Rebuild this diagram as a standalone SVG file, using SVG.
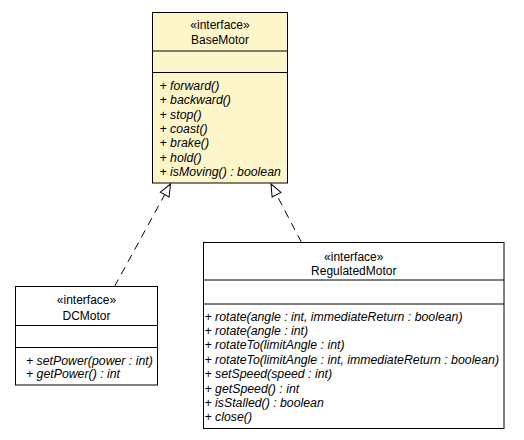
<svg xmlns="http://www.w3.org/2000/svg" width="524" height="440" viewBox="0 0 524 440">
<style>
.box{fill:#fff;stroke:#000;stroke-width:1}
.yel{fill:#fef6cb}
.div{stroke:#000;stroke-width:1}
.t{font-family:"Liberation Sans",Arial,sans-serif;font-size:12px;fill:#000}
.c{text-anchor:middle}
.m{font-style:italic;font-size:12.3px}
.conn{fill:none;stroke:#000;stroke-width:1;stroke-dasharray:8,6}
</style>
<defs>
<marker id="tri" markerUnits="userSpaceOnUse" markerWidth="16" markerHeight="14" refX="13" refY="6" orient="auto">
<path d="M1,1 L13,6 L1,11 z" fill="#fff" stroke="#000" stroke-width="1"/>
</marker>
</defs>
<rect width="524" height="440" fill="#fff"/>
<g id="connectors">
<line class="conn" x1="114.5" y1="286.5" x2="170.5" y2="184" marker-end="url(#tri)"/>
<line class="conn" x1="301.5" y1="242.5" x2="271" y2="184" marker-end="url(#tri)"/>
</g>
<g id="BaseMotor">
<rect class="box yel" x="152.5" y="12.5" width="135" height="170.5" style="stroke:#000"/>
<line class="div" x1="152.5" y1="51" x2="287.5" y2="51"/>
<line class="div" x1="152.5" y1="72.5" x2="287.5" y2="72.5"/>
<text class="t c" x="220" y="28.5">«interface»</text>
<text class="t c" x="220" y="44">BaseMotor</text>
<text class="t m" x="159.5" y="90">+ forward()</text>
<text class="t m" x="159.5" y="104.3">+ backward()</text>
<text class="t m" x="159.5" y="118.6">+ stop()</text>
<text class="t m" x="159.5" y="132.9">+ coast()</text>
<text class="t m" x="159.5" y="147.2">+ brake()</text>
<text class="t m" x="159.5" y="161.5">+ hold()</text>
<text class="t m" x="159.5" y="175.8">+ isMoving() : boolean</text>
</g>
<g id="DCMotor">
<rect class="box" x="15.5" y="286.5" width="142" height="98.5"/>
<line class="div" x1="15.5" y1="325.5" x2="157.5" y2="325.5"/>
<line class="div" x1="15.5" y1="347.5" x2="157.5" y2="347.5"/>
<text class="t c" x="86.5" y="303.5">«interface»</text>
<text class="t c" x="86.5" y="319.5">DCMotor</text>
<text class="t m" x="26" y="364.5">+ setPower(power : int)</text>
<text class="t m" x="26" y="378">+ getPower() : int</text>
</g>
<g id="RegulatedMotor">
<rect class="box" x="203.5" y="242.5" width="300.5" height="186"/>
<line class="div" x1="203.5" y1="280" x2="504" y2="280"/>
<line class="div" x1="203.5" y1="304" x2="504" y2="304"/>
<text class="t c" x="353.75" y="260.5">«interface»</text>
<text class="t c" x="353.75" y="274.5">RegulatedMotor</text>
<text class="t m" x="204.5" y="320.5">+ rotate(angle : int, immediateReturn : boolean)</text>
<text class="t m" x="204.5" y="334.9">+ rotate(angle : int)</text>
<text class="t m" x="204.5" y="349.3">+ rotateTo(limitAngle : int)</text>
<text class="t m" x="204.5" y="363.7">+ rotateTo(limitAngle : int, immediateReturn : boolean)</text>
<text class="t m" x="204.5" y="378.1">+ setSpeed(speed : int)</text>
<text class="t m" x="204.5" y="392.5">+ getSpeed() : int</text>
<text class="t m" x="204.5" y="406.9">+ isStalled() : boolean</text>
<text class="t m" x="204.5" y="421.3">+ close()</text>
</g>
</svg>
